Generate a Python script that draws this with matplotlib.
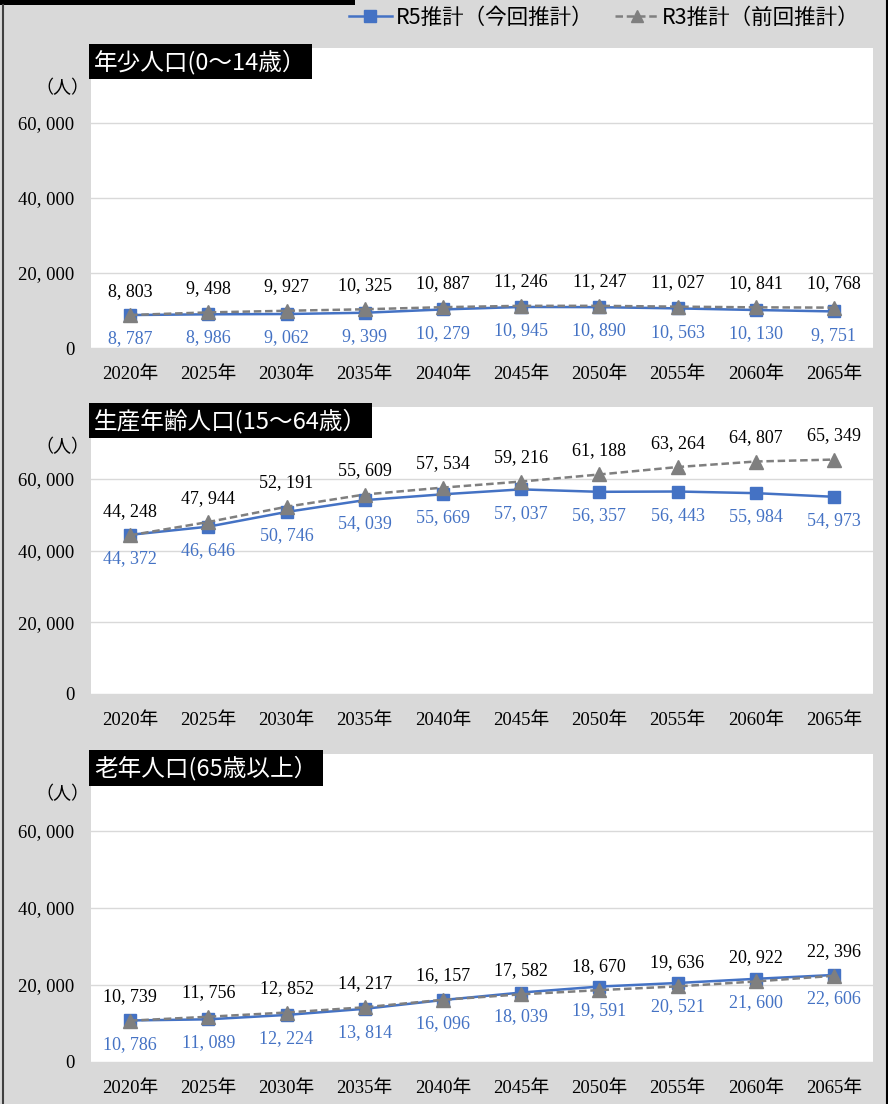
import numpy as np
import matplotlib
matplotlib.use("Agg")
import matplotlib.pyplot as plt
from matplotlib.lines import Line2D
from matplotlib.patches import Rectangle

plt.rcParams['font.family'] = ['Liberation Serif', 'Noto Sans CJK JP', 'DejaVu Sans']

years = ['2020年', '2025年', '2030年', '2035年', '2040年',
         '2045年', '2050年', '2055年', '2060年', '2065年']

titles = ['年少人口(0～14歳）', '生産年齢人口(15～64歳）', '老年人口(65歳以上）']

# R5推計（今回推計）
r5_young = [8787, 8986, 9062, 9399, 10279, 10945, 10890, 10563, 10130, 9751]
r5_work = [44372, 46646, 50746, 54039, 55669, 57037, 56357, 56443, 55984, 54973]
r5_old = [10786, 11089, 12224, 13814, 16096, 18039, 19591, 20521, 21600, 22606]

# R3推計（前回推計）
r3_young = [8803, 9498, 9927, 10325, 10887, 11246, 11247, 11027, 10841, 10768]
r3_work = [44248, 47944, 52191, 55609, 57534, 59216, 61188, 63264, 64807, 65349]
r3_old = [10739, 11756, 12852, 14217, 16157, 17582, 18670, 19636, 20922, 22396]

yticks = [0, 20000, 40000, 60000]

BLUE = '#4472C4'
GRAY = '#7F7F7F'
BG = '#D9D9D9'

W, H = 888, 1104
fig = plt.figure(figsize=(W / 100, H / 100), dpi=100, facecolor=BG)

# panel boxes in pixels: (top, bottom)
boxes = [(48, 348), (407, 694), (754, 1062)]
left_px, right_px = 91, 873

series = [(r5_young, r3_young), (r5_work, r3_work), (r5_old, r3_old)]

fmt = lambda v: f"{v:,}".replace(",", ", ")

for (top, bot), title, (r5, r3) in zip(boxes, titles, series):
    ax = fig.add_axes([left_px / W, 1 - bot / H, (right_px - left_px) / W, (bot - top) / H])
    ax.set_facecolor('white')
    x = np.arange(len(years))
    ax.plot(x, r5, color=BLUE, lw=1.8, marker='s', ms=8, zorder=3)
    ax.plot(x, r3, color=GRAY, lw=1.8, ls=(0, (3, 1.5)), marker='^', ms=10, zorder=4)
    for xi, a, b in zip(x, r5, r3):
        ax.annotate(fmt(b), (xi, b), xytext=(0, 11), textcoords='offset points',
                    ha='center', va='bottom', fontsize=13, color='black')
        ax.annotate(fmt(a), (xi, a), xytext=(0, -11), textcoords='offset points',
                    ha='center', va='top', fontsize=13, color=BLUE)
    ax.set_xlim(-0.5, len(years) - 0.5)
    ax.set_ylim(0, 80000)
    ax.set_yticks(yticks)
    ax.set_yticklabels([fmt(v) for v in yticks], fontsize=13.5)
    ax.set_xticks(x)
    ax.set_xticklabels(years, fontsize=13.5)
    ax.tick_params(length=0, pad=12)
    ax.tick_params(axis='x', pad=13)
    ax.grid(axis='y', color='#D9D9D9', lw=1)
    ax.set_axisbelow(True)
    for s in ax.spines.values():
        s.set_visible(False)
    ax.text(0.004, 0.995, title, transform=ax.transAxes, ha='left', va='top',
            fontsize=17, color='white', family=['Noto Sans CJK JP'],
            bbox=dict(boxstyle='square,pad=0.22', fc='black', ec='none'))
    fig.text(62 / W, 1 - (top + 40) / H, '（人）', ha='center', va='center',
             fontsize=13, family=['Noto Sans CJK JP'])

handles = [Line2D([], [], color=BLUE, lw=1.8, marker='s', ms=8),
           Line2D([], [], color=GRAY, lw=1.8, ls=(0, (3, 1.5)), marker='^', ms=9)]
fig.legend(handles, ['R5推計（今回推計）', 'R3推計（前回推計）'], loc='center right',
           bbox_to_anchor=(860 / W, 1 - 18 / H), ncol=2, frameon=False,
           prop={'family': ['Noto Sans CJK JP'], 'size': 15.5},
           handlelength=2.0, handletextpad=0.2, columnspacing=1.0,
           borderaxespad=0, borderpad=0)

# frame bits
fig.add_artist(Rectangle((0, 1 - 5 / H), 355 / W, 5 / H, transform=fig.transFigure,
                         fc='black', ec='none'))
fig.add_artist(Line2D([2.5 / W, 2.5 / W], [0, 1 - 5 / H], transform=fig.transFigure,
                      color='#404040', lw=1.5))
fig.add_artist(Line2D([886.5 / W, 886.5 / W], [0, 1], transform=fig.transFigure,
                      color='black', lw=1.5))

fig.savefig('out.png', dpi=100, facecolor=BG)
